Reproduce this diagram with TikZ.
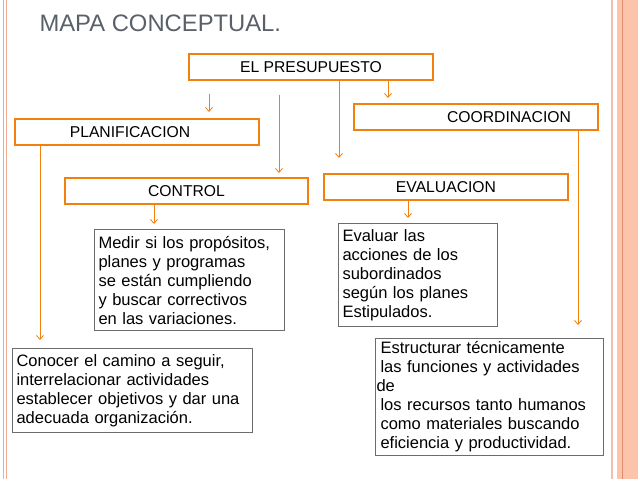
\documentclass[tikz,border=0pt]{standalone}
\usepackage{fontspec}
\setmainfont{Liberation Sans}
\usetikzlibrary{arrows.meta}
\begin{document}
\begin{tikzpicture}[x=1pt,y=-1pt,
  obox/.style={draw=orange!80!brown,line width=1.3pt,fill=white,inner sep=0pt,font=\fontsize{15.7}{18}\selectfont},
  gbox/.style={draw=gray!85!black,line width=1.1pt,fill=white,inner xsep=4pt,inner ysep=3pt,anchor=north west,align=left,font=\fontsize{16.5}{19}\selectfont},
  conn/.style={draw=orange!80!brown,line width=0.8pt,-{Straight Barb[length=4pt,width=7pt]}}]
\useasboundingbox (0,0) rectangle (638,479);
\fill[white] (0,0) rectangle (638,479);
% borders
\draw[color={rgb,255:red,240;green,170;blue,150},line width=1pt] (3,0) -- (3,479) (6,0)--(6,479);
\draw[color={rgb,255:red,245;green,190;blue,170},line width=1.5pt] (612,0) -- (612,479);
\fill[color={rgb,255:red,252;green,196;blue,171}] (617,0) rectangle (638,479);
\draw[color={rgb,255:red,225;green,140;blue,110},line width=0.8pt] (622,0) -- (622,479);
\node[anchor=west,text={rgb,255:red,90;green,96;blue,104},font=\fontsize{23.8}{26}\selectfont] (title) at (36,23) {MAPA CONCEPTUAL.};
\node[obox,minimum width=244pt,minimum height=26pt] (pres) at (311,67) {EL PRESUPUESTO};
\node[obox,minimum width=244pt,minimum height=26pt] (plan) at (137,132) {\hspace*{-14pt}PLANIFICACION};
\node[obox,minimum width=244pt,minimum height=26pt] (coord) at (476,117) {\hspace*{66pt}COORDINACION};
\node[obox,minimum width=243pt,minimum height=26pt] (ctrl) at (186.5,191) {CONTROL};
\node[obox,minimum width=244pt,minimum height=26pt] (eval) at (446,187) {EVALUACION};
\node[gbox,text width=182pt,minimum height=101pt] (medir) at (94,229) {Medir si los propósitos,\\planes y programas\\se están cumpliendo\\y buscar correctivos\\en las variaciones.};
\node[gbox,text width=151pt,minimum height=103pt] (evtx) at (338,223) {Evaluar las\\acciones de los\\subordinados\\según los planes\\Estipulados.};
\node[gbox,text width=232pt,minimum height=84pt] (conoc) at (12,348) {Conocer el camino a seguir,\\interrelacionar actividades\\\makebox[232pt][s]{establecer objetivos y dar una}\\adecuada organización.};
\node[gbox,text width=226pt,inner xsep=1pt,minimum height=104pt] (estr) at (375,338) {\hspace*{4pt}Estructurar técnicamente\\\hspace*{4pt}las funciones y actividades de\\\hspace*{4pt}los recursos tanto humanos\\\hspace*{4pt}como materiales buscando\\\hspace*{4pt}eficiencia y productividad.};
% connectors
\coordinate (a1) at (209,94); \coordinate (a1e) at (209,112);
\coordinate (a2) at (279,95); \coordinate (a2e) at (279,173);
\coordinate (a3e) at (339,158);
\coordinate (a4e) at (388,98);
\coordinate (a5e) at (40,340);
\coordinate (a6e) at (578,325);
\draw[conn] (a1) -- (a1e);
\draw[conn] (a2) -- (a2e);
\draw[conn] (pres.south -| a3e) -- (a3e);
\draw[conn] (pres.south -| a4e) -- (a4e);
\draw[conn] (plan.south -| a5e) -- (a5e);
\draw[conn] (coord.south -| a6e) -- (a6e);
\draw[conn] (ctrl.south -| 154,0) -- (154,224);
\draw[conn] (eval.south -| 408,0) -- (408,218);
\end{tikzpicture}
\end{document}
